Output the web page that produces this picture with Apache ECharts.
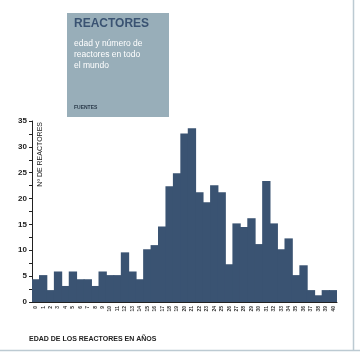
<!DOCTYPE html>
<html lang="es">
<head>
    <meta charset="UTF-8">
    <title>Reactores</title>
    <script type="text/javascript" src="https://cdn.jsdelivr.net/npm/echarts@6.0.0/dist/echarts.min.js"></script>
    <style type="text/css">
        html, body {
            margin: 0;
            padding: 0;
            height: 100%;
            width: 100%;
            background: #fff;
        }
        #echarts {
            height: 354px;
            width: 360px;
        }
    </style>
</head>
<body>

<div id="echarts"></div>

<script type="text/javascript">
    // edad de los reactores (años) y número de reactores
    var ages = [];
    for (var i = 0; i <= 40; i++) ages.push(String(i));

    var reactors = [4.4, 5.2, 2.3, 5.9, 3.1, 5.9, 4.4, 4.4, 3.1, 5.9,
                    5.2, 5.2, 9.6, 5.9, 4.4, 10.2, 11, 14.6, 22.4, 24.9,
                    32.6, 33.6, 21.2, 19.3, 22.6, 21.2, 7.3, 15.2, 14.5, 16.2,
                    11.2, 23.4, 15.2, 10.2, 12.3, 5.2, 7.1, 2.3, 1.3, 2.3, 2.3];

    var yTicks = [0, 5, 10, 15, 20, 25, 30, 35];

    var font = '"Liberation Sans", Arial, sans-serif';
    var barColor = '#3a5372';
    var myChart = echarts.init(document.getElementById("echarts"));

    option = {
        animation: false,
        grid: {
            left: 32,
            right: 23,
            top: 121,
            bottom: 52
        },
        xAxis: {
            type: 'category',
            data: ages,
            axisLine: { lineStyle: { color: '#222', width: 1 } },
            axisTick: { length: 3, lineStyle: { color: '#222' } },
            axisLabel: {
                rotate: 90,
                fontSize: 5,
                fontWeight: 'bold',
                color: '#333',
                fontFamily: font,
                margin: 4
            }
        },
        yAxis: {
            type: 'value',
            min: yTicks[0],
            max: yTicks[yTicks.length - 1],
            interval: 5,
            splitLine: { show: false },
            axisLine: { show: true, lineStyle: { color: '#222', width: 1 } },
            axisTick: { show: true, length: 3, lineStyle: { color: '#222' } },
            minorTick: { show: true, splitNumber: 2, length: 3, lineStyle: { color: '#222' } },
            axisLabel: {
                fontSize: 8,
                fontWeight: 'bold',
                color: '#222',
                fontFamily: font,
                margin: 5
            }
        },
        series: [{
            type: 'bar',
            data: reactors,
            barWidth: '112%',
            z: 1,
            itemStyle: { color: barColor }
        }],
        graphic: [
            {
                type: 'rect',
                shape: { x: 67, y: 13, width: 102, height: 104 },
                style: { fill: '#98aeb9' }
            },
            {
                type: 'text',
                x: 74, y: 18,
                style: {
                    text: 'REACTORES',
                    font: 'bold 12px ' + font,
                    fill: '#3a5372'
                }
            },
            {
                type: 'text',
                x: 74, y: 38,
                style: {
                    text: 'edad y número de\nreactores en todo\nel mundo',
                    font: '8.5px ' + font,
                    lineHeight: 11,
                    fill: '#ffffff'
                }
            },
            {
                type: 'text',
                x: 74, y: 105,
                style: {
                    text: 'FUENTES',
                    font: 'bold 5px ' + font,
                    fill: '#2a3a4a'
                }
            },
            {
                type: 'text',
                x: 40, y: 122,
                rotation: Math.PI / 2,
                style: {
                    text: 'Nº DE REACTORES',
                    font: '7px ' + font,
                    fill: '#222',
                    align: 'right',
                    verticalAlign: 'middle'
                }
            },
            {
                type: 'text',
                x: 29, y: 339,
                style: {
                    text: 'EDAD DE LOS REACTORES EN AÑOS',
                    font: 'bold 7px ' + font,
                    fill: '#222',
                    verticalAlign: 'middle'
                }
            },
            {
                type: 'line',
                shape: { x1: 353.5, y1: 0, x2: 353.5, y2: 350 },
                style: { stroke: '#bccad2', lineWidth: 1.5 }
            },
            {
                type: 'line',
                shape: { x1: 0, y1: 350.5, x2: 360, y2: 350.5 },
                style: { stroke: '#bccad2', lineWidth: 1.5 }
            }
        ]
    };
    myChart.setOption(option);
</script>

</body>
</html>
